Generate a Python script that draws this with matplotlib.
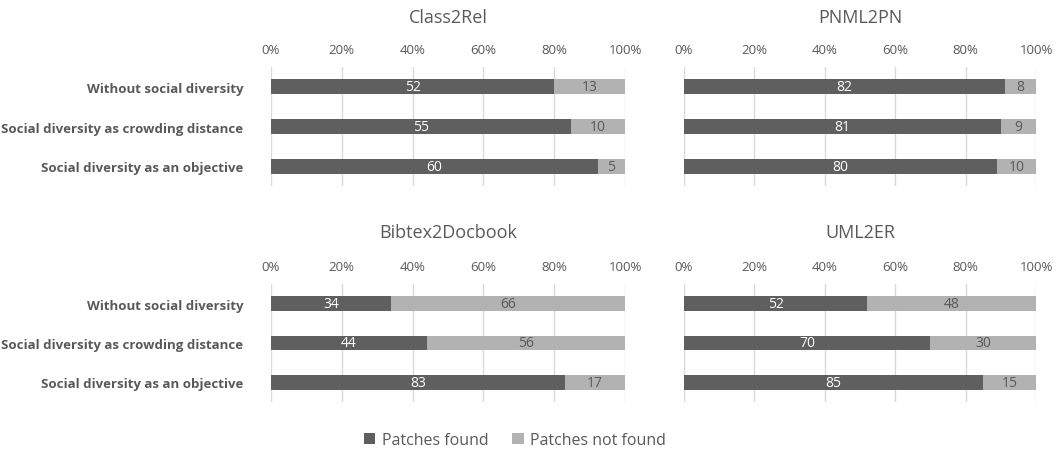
import matplotlib
matplotlib.use("Agg")
import matplotlib.pyplot as plt
from matplotlib.patches import Patch
import numpy as np

plt.rcParams['font.family'] = ['Open Sans', 'DejaVu Sans']

categories = ["Without social diversity",
              "Social diversity as crowding distance",
              "Social diversity as an objective"]
titles = ["Class2Rel", "PNML2PN", "Bibtex2Docbook", "UML2ER"]
found = [[52, 55, 60], [82, 81, 80], [34, 44, 83], [52, 70, 85]]
not_found = [[13, 10, 5], [8, 9, 10], [66, 56, 17], [48, 30, 15]]
tick_labels = ["0%", "20%", "40%", "60%", "80%", "100%"]
series_names = ["Patches found", "Patches not found"]

DARK = "#5f5f5f"
LIGHT = "#b2b2b2"
TXT = "#595959"
GRID = "#d9d9d9"

fig = plt.figure(figsize=(10.62, 4.56), dpi=100)
W, H = 1062, 456
# pixel boxes: (left, top, right, bottom)
boxes = [(271, 68, 625, 187), (684, 68, 1036, 187),
         (271, 285, 625, 403), (684, 285, 1036, 403)]
title_y = [18, 233]

for i, (l, t, r, b) in enumerate(boxes):
    ax = fig.add_axes([l / W, 1 - b / H, (r - l) / W, (b - t) / H])
    f = np.array(found[i], float)
    n = np.array(not_found[i], float)
    tot = f + n
    fp = f / tot * 100
    npct = n / tot * 100
    y = np.arange(len(categories))
    ax.barh(y, fp, height=0.38, color=DARK, zorder=3)
    ax.barh(y, npct, left=fp, height=0.38, color=LIGHT, zorder=3)
    for k in range(len(y)):
        ax.text(fp[k] / 2, y[k], str(found[i][k]), ha='center', va='center',
                color='white', fontsize=10, zorder=4)
        ax.text(fp[k] + npct[k] / 2, y[k], str(not_found[i][k]), ha='center',
                va='center', color=TXT, fontsize=10, zorder=4)
    ax.set_xlim(0, 100)
    ax.set_ylim(2.5, -0.5)
    ax.set_xticks(np.linspace(0, 100, len(tick_labels)))
    ax.set_xticklabels(tick_labels)
    ax.xaxis.tick_top()
    ax.tick_params(axis='x', length=0, pad=8, labelsize=9.5, labelcolor=TXT)
    ax.grid(axis='x', color=GRID, linewidth=1, zorder=0)
    for s in ax.spines.values():
        s.set_visible(False)
    ax.set_yticks(y)
    if i % 2 == 0:
        ax.set_yticklabels(categories, fontweight='bold', fontsize=9.5, color=TXT)
        ax.tick_params(axis='y', length=0, pad=20)
    else:
        ax.set_yticklabels([])
        ax.tick_params(axis='y', length=0)
    fig.text((l + r) / 2 / W, 1 - title_y[i // 2] / H, titles[i], ha='center',
             va='center', fontsize=13, color=TXT)

handles = [Patch(facecolor=DARK), Patch(facecolor=LIGHT)]
fig.legend(handles, series_names, loc='center', bbox_to_anchor=(515 / W, 1 - 441 / H),
           ncol=2, frameon=False, fontsize=11.5, handlelength=0.7, handleheight=0.7,
           handletextpad=0.4, columnspacing=1.5, labelcolor=TXT)

fig.savefig("out.png", dpi=100)
